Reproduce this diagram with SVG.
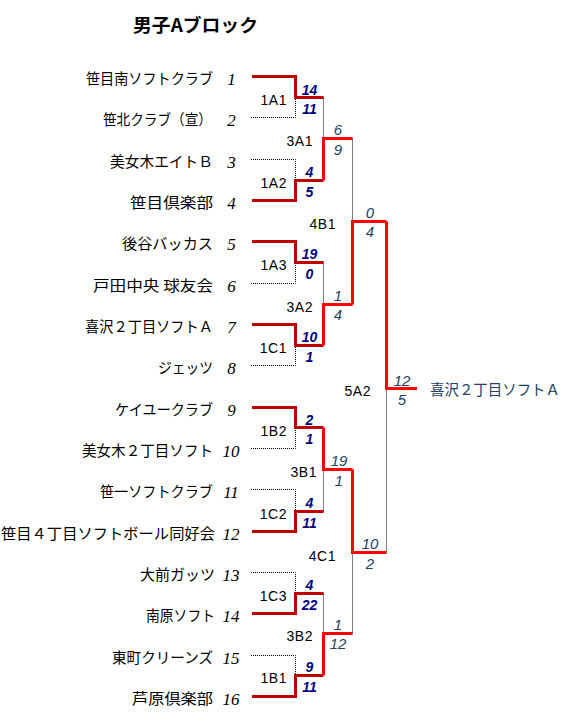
<svg xmlns="http://www.w3.org/2000/svg" width="569" height="718" viewBox="0 0 569 718">
<style>
.bg{fill:#fff}
.title{font-family:"Noto Sans CJK JP","Liberation Sans",sans-serif;font-size:18px;font-weight:bold;fill:#000}
.name{font-family:"Noto Sans CJK JP","Liberation Sans",sans-serif;font-size:15px;fill:#000}
.num{font-family:"Liberation Serif",serif;font-style:italic;font-size:17px;fill:#000;text-anchor:middle}
.lbl{font-family:"Liberation Sans",sans-serif;font-size:14px;fill:#000;text-anchor:end;letter-spacing:0.5px}
.s1{font-family:"Liberation Sans",sans-serif;font-style:italic;font-weight:bold;font-size:14px;fill:#000080;text-anchor:middle}
.s2{font-family:"Liberation Sans",sans-serif;font-style:italic;font-size:15px;fill:#243f60;text-anchor:middle}
.champ{font-family:"Noto Sans CJK JP","Liberation Sans",sans-serif;font-size:15px;fill:#243f60}
.r1{fill:none;stroke:#c00000;stroke-width:3}
.r2{fill:none;stroke:#ff0000;stroke-width:3}
.dot{fill:none;stroke:#000;stroke-width:1;stroke-dasharray:1 1}
</style>
<rect class="bg" x="0" y="0" width="569" height="718"/>
<text class="title" x="133" y="32" textLength="125" lengthAdjust="spacingAndGlyphs">男子Aブロック</text>

<g id="connectors">
<path class="dot" d="M251 117.5H295.5V97.5"/>
<path class="dot" d="M251 159.5H295.5V180.5"/>
<path class="dot" d="M251 283.5H295.5V262.5"/>
<path class="dot" d="M251 365.5H295.5V345.5"/>
<path class="dot" d="M251 448.5H295.5V427.5"/>
<path class="dot" d="M251 489.5H295.5V511.5"/>
<path class="dot" d="M251 572.5H295.5V593.5"/>
<path class="dot" d="M251 655.5H295.5V675.5"/>
<path class="dot" d="M323.5 97.5V138.5"/>
<path class="dot" d="M323.5 262.5V304.5"/>
<path class="dot" d="M323.5 511.5V469.5"/>
<path class="dot" d="M323.5 593.5V633.5"/>
<path class="dot" d="M352.5 138.5V221.5"/>
<path class="dot" d="M352.5 633.5V552.5"/>
<path class="dot" d="M386.5 552.5V388.5"/>
<path class="r1" d="M252 76.5H295.5V97.5H323.5"/>
<path class="r1" d="M252 200.5H295.5V180.5H323.5"/>
<path class="r1" d="M252 241.5H295.5V262.5H323.5"/>
<path class="r1" d="M252 324.5H295.5V345.5H323.5"/>
<path class="r1" d="M252 407.5H295.5V427.5H323.5"/>
<path class="r1" d="M252 531.5H295.5V511.5H323.5"/>
<path class="r1" d="M252 613.5H295.5V593.5H323.5"/>
<path class="r1" d="M252 696.5H295.5V675.5H323.5"/>
<path class="r2" d="M323.5 180.5V138.5H352.5"/>
<path class="r2" d="M323.5 345.5V304.5H352.5"/>
<path class="r2" d="M323.5 427.5V469.5H352.5"/>
<path class="r2" d="M323.5 675.5V633.5H352.5"/>
<path class="r2" d="M352.5 304.5V221.5H386.5"/>
<path class="r2" d="M352.5 469.5V552.5H386.5"/>
<path class="r2" d="M386.5 221.5V388.5H417"/>
</g>

<g id="team-1"><text class="name" x="86" y="84" textLength="127" lengthAdjust="spacingAndGlyphs">笹目南ソフトクラブ</text><text class="num" x="231.5" y="85">1</text></g>
<g id="team-2"><text class="name" x="103" y="125" textLength="109" lengthAdjust="spacingAndGlyphs">笹北クラブ（宣）</text><text class="num" x="231.5" y="126">2</text></g>
<g id="team-3"><text class="name" x="110" y="167" textLength="103" lengthAdjust="spacingAndGlyphs">美女木エイトＢ</text><text class="num" x="231.5" y="168">3</text></g>
<g id="team-4"><text class="name" x="130" y="208" textLength="83" lengthAdjust="spacingAndGlyphs">笹目倶楽部</text><text class="num" x="231.5" y="209">4</text></g>
<g id="team-5"><text class="name" x="122" y="249" textLength="91" lengthAdjust="spacingAndGlyphs">後谷バッカス</text><text class="num" x="231.5" y="250">5</text></g>
<g id="team-6"><text class="name" x="93" y="291" textLength="120" lengthAdjust="spacingAndGlyphs">戸田中央 球友会</text><text class="num" x="231.5" y="292">6</text></g>
<g id="team-7"><text class="name" x="85" y="332" textLength="128" lengthAdjust="spacingAndGlyphs">喜沢２丁目ソフトＡ</text><text class="num" x="231.5" y="333">7</text></g>
<g id="team-8"><text class="name" x="158" y="373" textLength="55" lengthAdjust="spacingAndGlyphs">ジェッツ</text><text class="num" x="231.5" y="374">8</text></g>
<g id="team-9"><text class="name" x="115" y="415" textLength="98" lengthAdjust="spacingAndGlyphs">ケイユークラブ</text><text class="num" x="231.5" y="416">9</text></g>
<g id="team-10"><text class="name" x="82" y="456" textLength="131" lengthAdjust="spacingAndGlyphs">美女木２丁目ソフト</text><text class="num" x="231" y="457">10</text></g>
<g id="team-11"><text class="name" x="100" y="497" textLength="113" lengthAdjust="spacingAndGlyphs">笹一ソフトクラブ</text><text class="num" x="231" y="498">11</text></g>
<g id="team-12"><text class="name" x="1" y="539" textLength="214" lengthAdjust="spacingAndGlyphs">笹目４丁目ソフトボール同好会</text><text class="num" x="231" y="540">12</text></g>
<g id="team-13"><text class="name" x="140" y="580" textLength="75" lengthAdjust="spacingAndGlyphs">大前ガッツ</text><text class="num" x="231" y="581">13</text></g>
<g id="team-14"><text class="name" x="146" y="621" textLength="69" lengthAdjust="spacingAndGlyphs">南原ソフト</text><text class="num" x="231" y="622">14</text></g>
<g id="team-15"><text class="name" x="112" y="663" textLength="101" lengthAdjust="spacingAndGlyphs">東町クリーンズ</text><text class="num" x="231" y="664">15</text></g>
<g id="team-16"><text class="name" x="132" y="704" textLength="81" lengthAdjust="spacingAndGlyphs">芦原倶楽部</text><text class="num" x="231" y="705">16</text></g>

<g id="match-1A1"><text class="lbl" x="287" y="105">1A1</text><text class="s1" x="309.5" y="95">14</text><text class="s1" x="309.5" y="114">11</text></g>
<g id="match-1A2"><text class="lbl" x="287" y="188">1A2</text><text class="s1" x="309.5" y="177">4</text><text class="s1" x="309.5" y="197">5</text></g>
<g id="match-1A3"><text class="lbl" x="287" y="270">1A3</text><text class="s1" x="309.5" y="259">19</text><text class="s1" x="309.5" y="279">0</text></g>
<g id="match-1C1"><text class="lbl" x="287" y="353">1C1</text><text class="s1" x="309.5" y="342">10</text><text class="s1" x="309.5" y="362">1</text></g>
<g id="match-1B2"><text class="lbl" x="287" y="436">1B2</text><text class="s1" x="309.5" y="425">2</text><text class="s1" x="309.5" y="444">1</text></g>
<g id="match-1C2"><text class="lbl" x="287" y="519">1C2</text><text class="s1" x="309.5" y="508">4</text><text class="s1" x="309.5" y="528">11</text></g>
<g id="match-1C3"><text class="lbl" x="287" y="601">1C3</text><text class="s1" x="309.5" y="590">4</text><text class="s1" x="309.5" y="610">22</text></g>
<g id="match-1B1"><text class="lbl" x="287" y="683">1B1</text><text class="s1" x="309.5" y="672">9</text><text class="s1" x="309.5" y="692">11</text></g>
<g id="match-3A1"><text class="lbl" x="313" y="146">3A1</text><text class="s2" x="338" y="135">6</text><text class="s2" x="338" y="155">9</text></g>
<g id="match-3A2"><text class="lbl" x="313" y="312">3A2</text><text class="s2" x="338" y="301">1</text><text class="s2" x="338" y="320">4</text></g>
<g id="match-3B1"><text class="lbl" x="317" y="477">3B1</text><text class="s2" x="339" y="466">19</text><text class="s2" x="339" y="486">1</text></g>
<g id="match-3B2"><text class="lbl" x="313" y="641">3B2</text><text class="s2" x="338" y="630">1</text><text class="s2" x="338" y="649">12</text></g>
<g id="match-4B1"><text class="lbl" x="336" y="229">4B1</text><text class="s2" x="370" y="218">0</text><text class="s2" x="370" y="237">4</text></g>
<g id="match-4C1"><text class="lbl" x="336" y="561">4C1</text><text class="s2" x="370" y="549">10</text><text class="s2" x="370" y="569">2</text></g>
<g id="match-5A2"><text class="lbl" x="371" y="396">5A2</text><text class="s2" x="402" y="386">12</text><text class="s2" x="402" y="405">5</text></g>
<g id="champion"><text class="champ" x="430" y="395" textLength="130" lengthAdjust="spacingAndGlyphs">喜沢２丁目ソフトＡ</text></g>
</svg>
